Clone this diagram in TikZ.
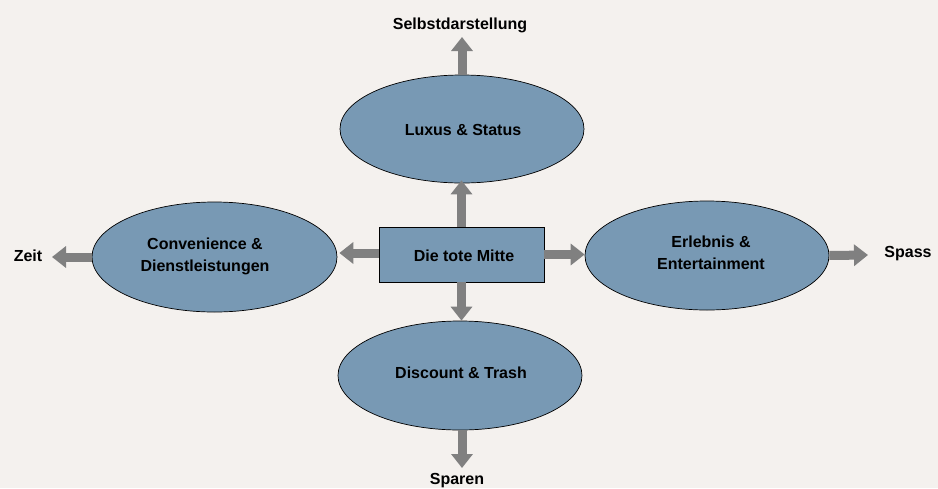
\documentclass[tikz,border=0pt]{standalone}
\usepackage{fontspec}
\setmainfont{Liberation Sans}
\usetikzlibrary{shapes.geometric,arrows.meta}
\definecolor{bg}{HTML}{F4F1EE}
\definecolor{blobfill}{HTML}{7899B4}
\definecolor{arrgray}{HTML}{808080}
\tikzset{
  blob/.style={ellipse, draw=black, line width=0.7pt, fill=blobfill, inner sep=0pt},
  txt/.style={font=\fontsize{16}{22}\selectfont\bfseries, align=center, text=black, inner sep=0pt},
  centerbox/.style={rectangle, draw=black, line width=0.8pt, fill=blobfill, minimum width=165pt, minimum height=55pt, inner sep=0pt},
  fat/.style={draw=arrgray, line width=9pt, -{Triangle[width=21pt,length=14pt]}, color=arrgray}
}
\begin{document}
\begin{tikzpicture}[x=1pt,y=-1pt]
\fill[bg] (0,0) rectangle (938,488);
\useasboundingbox (0,0) rectangle (938,488);
% ellipses
\node[blob, minimum width=244pt, minimum height=108pt] (top) at (462,129) {};
\node[blob, minimum width=245pt, minimum height=110pt] (left) at (214.5,257) {};
\node[blob, minimum width=244pt, minimum height=109pt] (right) at (707,255.5) {};
\node[blob, minimum width=244pt, minimum height=109pt] (bottom) at (460,375.5) {};
\node[centerbox] (mid) at (461.5,254.5) {};
% texts
\node[txt] (toptxt) at (463,130) {Luxus \& Status};
\node[txt] (lefttxt) at (205,256) {Convenience \&\\Dienstleistungen};
\node[txt] (righttxt) at (711,253) {Erlebnis \&\\Entertainment};
\node[txt] (bottomtxt) at (461,373) {Discount \& Trash};
\node[txt] (midtxt) at (464,256) {Die tote Mitte};
\node[txt] (selbst) at (460,25) {Selbstdarstellung};
\node[txt] (zeit) at (28,256) {Zeit};
\node[txt] (spass) at (908,254) {Spass};
\node[txt] (sparen) at (457,481) {Sparen};
% free ends
\coordinate (topend) at (462,37);
\coordinate (zeitend) at (52,257);
\coordinate (spassend) at (868,255);
\coordinate (sparenend) at (462,468);
% arrows from the box
\draw[fat] (mid.north) -- ([yshift=3pt]mid.north |- top.south);
\draw[fat] (mid.south) -- (mid.south |- bottom.north);
\draw[fat] ([yshift=1.5pt]mid.west) -- ([yshift=1.5pt,xshift=2pt]mid.west -| left.east);
\draw[fat] (mid.east) -- (mid.east -| right.west);
% outer arrows
\draw[fat] (top.north) -- (topend);
\draw[fat] (left.west) -- (zeitend);
\draw[fat] (right.east) -- (spassend);
\draw[fat] ([xshift=2pt]bottom.south) -- (sparenend);
\end{tikzpicture}
\end{document}
